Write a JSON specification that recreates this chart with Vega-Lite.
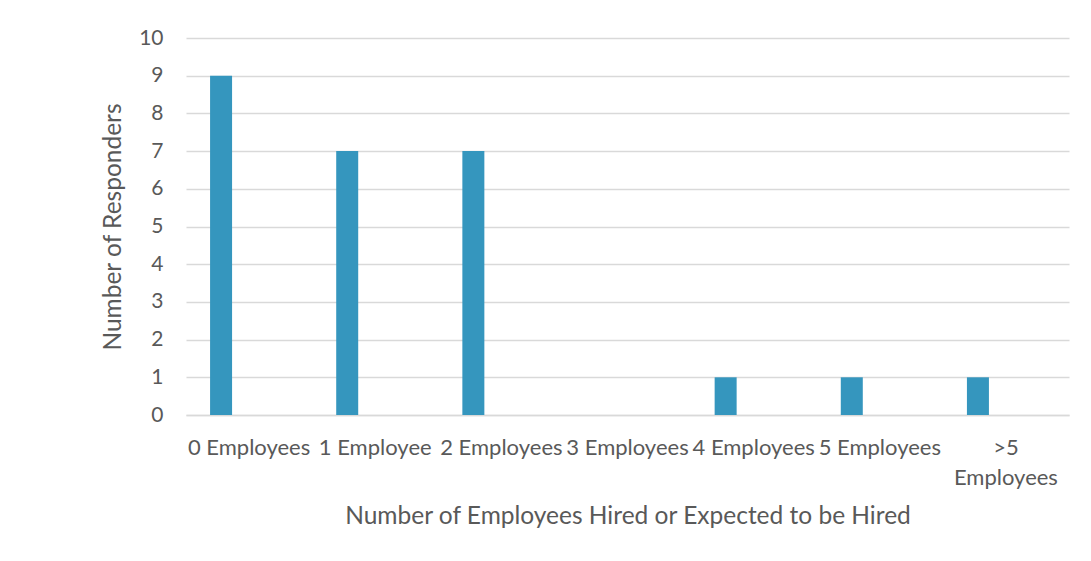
{
  "$schema": "https://vega.github.io/schema/vega-lite/v6.json",
  "width": 883,
  "height": 377,
  "autosize": {"type": "none"},
  "padding": {"left": 186, "top": 38, "right": 22, "bottom": 146},
  "background": "white",
  "data": {
    "values": [
      {"category": "0 Employees", "responders": 9},
      {"category": "1 Employee", "responders": 7},
      {"category": "2 Employees", "responders": 7},
      {"category": "3 Employees", "responders": 0},
      {"category": "4 Employees", "responders": 1},
      {"category": "5 Employees", "responders": 1},
      {"category": ">5 Employees", "responders": 1}
    ]
  },
  "mark": {"type": "bar", "color": "#3596BE", "width": 22, "xOffset": -28},
  "encoding": {
    "x": {
      "field": "category",
      "type": "nominal",
      "sort": null,
      "scale": {"paddingInner": 0, "paddingOuter": 0},
      "axis": {
        "title": "Number of Employees Hired or Expected to be Hired",
        "labelAngle": 0,
        "labelOverlap": false,
        "labelExpr": "datum.label == '>5 Employees' ? ['>5', 'Employees'] : datum.label",
        "labelLineHeight": 30,
        "labelBaseline": "top",
        "labelPadding": 22,
        "labelFontSize": 22,
        "ticks": false,
        "domainColor": "#D9D9D9",
        "domainWidth": 1.5,
        "grid": false,
        "titlePadding": 16
      }
    },
    "y": {
      "field": "responders",
      "type": "quantitative",
      "scale": {"domain": [0, 10]},
      "axis": {
        "title": "Number of Responders",
        "values": [0, 1, 2, 3, 4, 5, 6, 7, 8, 9, 10],
        "ticks": false,
        "domain": false,
        "gridColor": "#D9D9D9",
        "gridWidth": 1.3,
        "labelPadding": 23,
        "titlePadding": 13
      }
    }
  },
  "config": {
    "view": {"stroke": null},
    "font": "Lato",
    "axis": {
      "labelFont": "Lato",
      "labelFontSize": 21,
      "labelColor": "#595959",
      "titleFont": "Lato",
      "titleFontSize": 24.5,
      "titleFontWeight": "normal",
      "titleColor": "#595959"
    }
  }
}
